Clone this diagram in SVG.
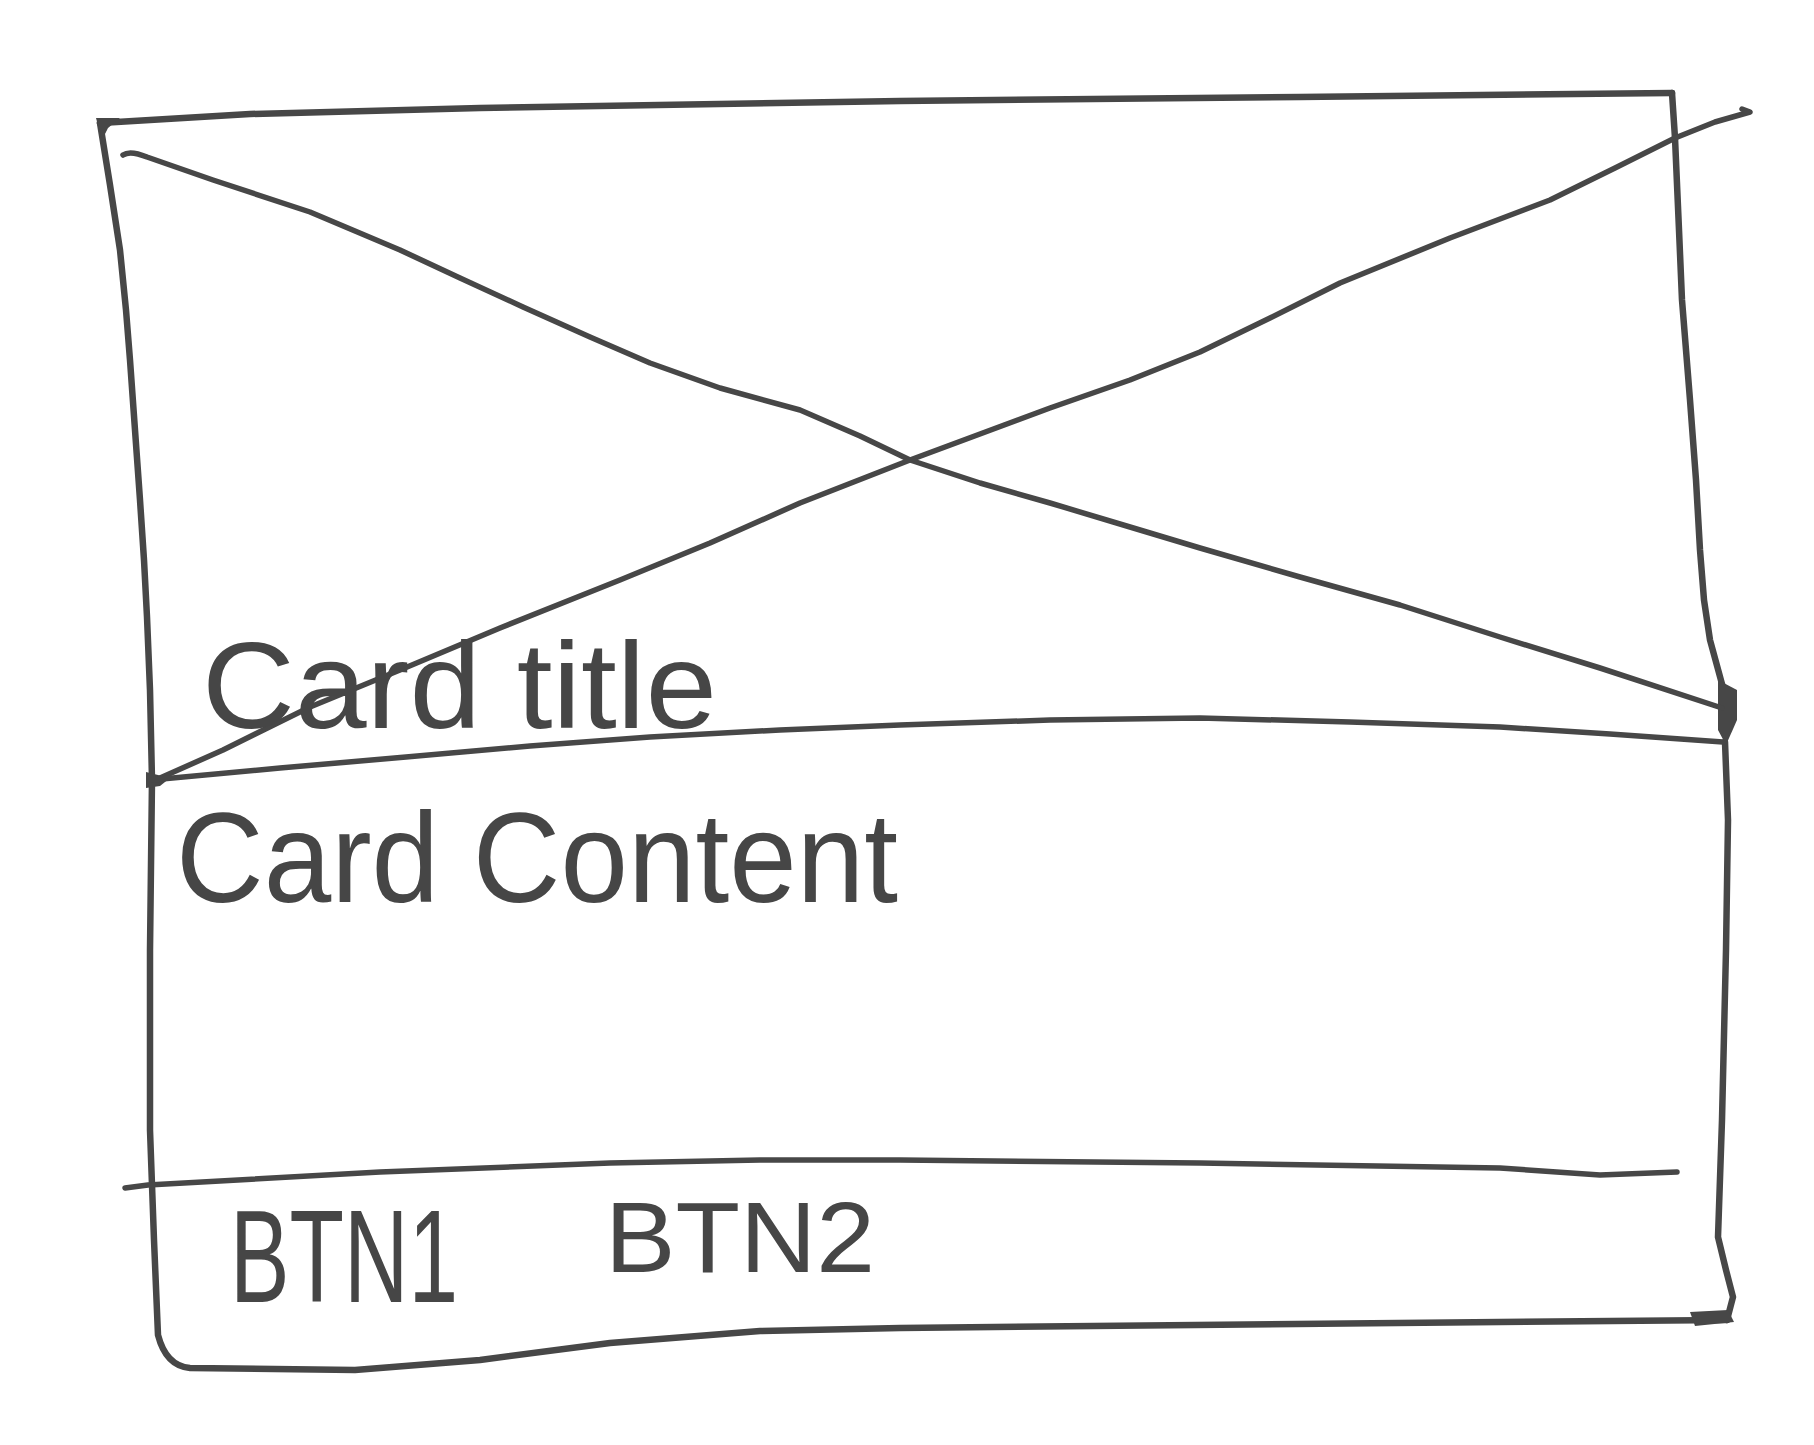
<svg xmlns="http://www.w3.org/2000/svg" width="1814" height="1445" viewBox="0 0 1814 1445">
<style>
.ink{fill:none;stroke:#474747;stroke-width:6.5;stroke-linecap:round;stroke-linejoin:round}
.thin{stroke-width:5.5}
.hand{font-family:"Liberation Sans","DejaVu Sans",sans-serif;fill:#464646}
</style>
<rect width="1814" height="1445" fill="#ffffff"/>
<g id="card-frame">
<path class="ink" d="M100,123 L250,114 L480,108 L900,101 L1300,97 L1672,93"/>
<path class="ink" d="M100,123 L110,185 L120,250 L126,310 L130,360 L135,430 L140,500 L144,560 L147,617 L150,690 L152,780"/>
<path class="ink" d="M1672,93 L1675,138 L1679,230 L1682,300 L1690,400 L1696,480 L1700,550 L1704,600 L1710,640 L1728,706"/>
<path class="ink" d="M1725,742 L1728,820 L1726,950 L1722,1120 L1718,1237 L1726,1270 L1733,1297 L1727,1320"/>
<path class="ink" d="M152,780 L150,950 L150,1130 L154,1240 L158,1335 Q166,1366 190,1368 L355,1370 L480,1360 L610,1343 L760,1331 L900,1328 L1500,1322 L1727,1320"/>
<path fill="#474747" d="M1718,680 L1737,690 L1737,720 L1726,745 L1718,730 Z"/>
<path fill="#474747" d="M1690,1312 L1728,1310 L1734,1322 L1695,1326 Z"/>
<path fill="#474747" d="M96,118 L120,118 L108,128 L102,140 Z"/>
<path fill="#474747" d="M146,772 L170,778 L160,786 L146,788 Z"/>
</g>
<g id="image-placeholder">
<path class="ink thin" d="M123,155 Q130,150 147,157 L213,180 L310,212 L400,250 L460,278 L523,307 L590,337 L650,363 L720,388 L800,410 L860,436 L910,460 L980,483 L1050,503 L1130,527 L1200,548 L1300,577 L1400,605 L1500,637 L1600,668 L1722,708"/>
<path class="ink thin" d="M160,778 L223,750 L310,707 L400,670 L500,628 L620,580 L710,543 L800,503 L910,460 L1050,408 L1130,380 L1200,352 L1270,318 L1340,283 L1450,238 L1550,200 L1615,168 L1675,138 L1715,122 L1750,112 L1742,109"/>
</g>
<g id="dividers">
<path class="ink thin" d="M151,780 L280,768 L406,757 L530,746 L650,737 L780,730 L900,725 L1050,720 L1200,718 L1350,722 L1500,727 L1610,734 L1723,742"/>
<path class="ink thin" d="M125,1188 L148,1185 L380,1172 L610,1163 L760,1160 L900,1160 L1200,1163 L1500,1168 L1600,1175 L1677,1172"/>
</g>
<g id="labels">
<text class="hand" x="202" y="728" font-size="122" textLength="515" lengthAdjust="spacingAndGlyphs">Card title</text>
<text class="hand" x="176" y="902" font-size="128" textLength="722" lengthAdjust="spacingAndGlyphs">Card Content</text>
<text class="hand" x="230" y="1302" font-size="132" textLength="228" lengthAdjust="spacingAndGlyphs">BTN1</text>
<text class="hand" x="605" y="1272" font-size="100" textLength="270" lengthAdjust="spacingAndGlyphs">BTN2</text>
</g>
</svg>
